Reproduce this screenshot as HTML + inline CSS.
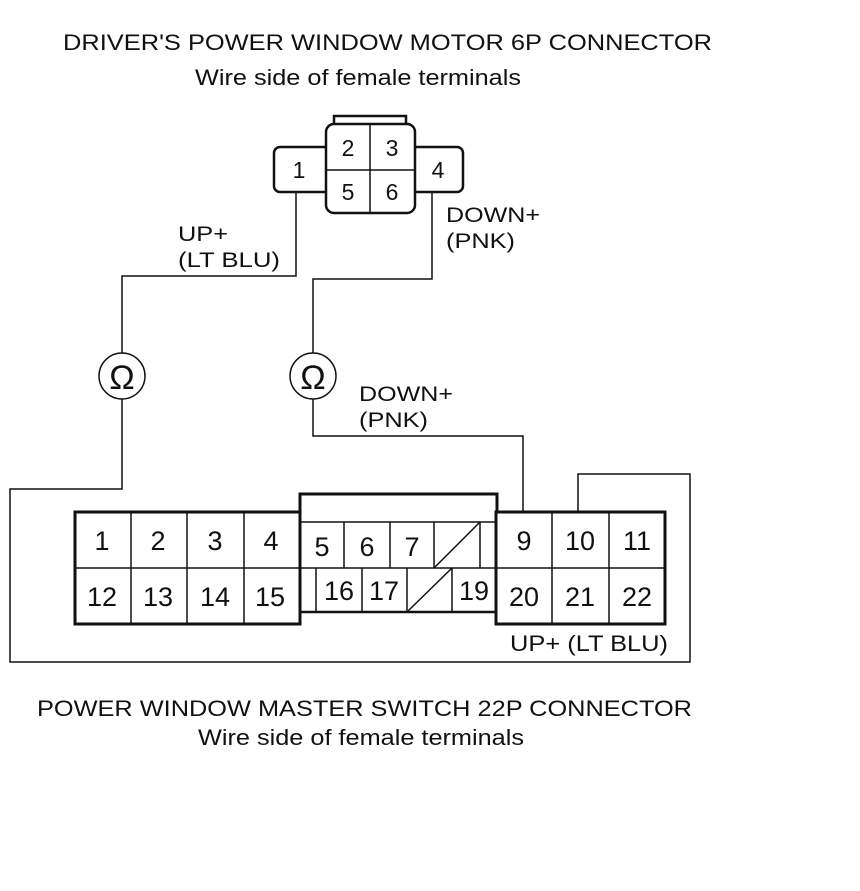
<!DOCTYPE html>
<html><head><meta charset="utf-8"><style>
body{margin:0;background:#fff}
svg{display:block}
text{font-family:"Liberation Sans",sans-serif;fill:#111}
</style></head><body>
<svg width="860" height="891" viewBox="0 0 860 891" xmlns="http://www.w3.org/2000/svg">
<rect width="860" height="891" fill="#fff"/>
<text x="63" y="50" font-size="22" textLength="649" lengthAdjust="spacingAndGlyphs">DRIVER'S POWER WINDOW MOTOR 6P CONNECTOR</text>
<text x="195" y="85" font-size="22" textLength="326" lengthAdjust="spacingAndGlyphs">Wire side of female terminals</text>
<text x="37" y="716" font-size="22" textLength="655" lengthAdjust="spacingAndGlyphs">POWER WINDOW MASTER SWITCH 22P CONNECTOR</text>
<text x="198" y="745" font-size="22" textLength="326" lengthAdjust="spacingAndGlyphs">Wire side of female terminals</text>

<g fill="none" stroke="#111" stroke-width="1.5">
<polyline points="296,190 296,276 122,276 122,353"/>
<polyline points="122,399 122,489 10,489 10,662 690,662 690,474 578,474 578,512"/>
<polyline points="432,190 432,279 313,279 313,353"/>
<polyline points="313,399 313,436 523,436 523,512"/>
<circle cx="122" cy="376" r="23"/>
<circle cx="313" cy="376" r="23"/>
</g>
<text x="122" y="389" font-size="34" text-anchor="middle">Ω</text>
<text x="313" y="389" font-size="34" text-anchor="middle">Ω</text>
<text x="178" y="241" font-size="21" textLength="50" lengthAdjust="spacingAndGlyphs">UP+</text>
<text x="178" y="267" font-size="21" textLength="102" lengthAdjust="spacingAndGlyphs">(LT BLU)</text>
<text x="446" y="222" font-size="21" textLength="94" lengthAdjust="spacingAndGlyphs">DOWN+</text>
<text x="446" y="248" font-size="21" textLength="69" lengthAdjust="spacingAndGlyphs">(PNK)</text>
<text x="359" y="401" font-size="21" textLength="94" lengthAdjust="spacingAndGlyphs">DOWN+</text>
<text x="359" y="427" font-size="21" textLength="69" lengthAdjust="spacingAndGlyphs">(PNK)</text>
<text x="510" y="651" font-size="22" textLength="158" lengthAdjust="spacingAndGlyphs">UP+ (LT BLU)</text>

<g fill="#fff" stroke="#111" stroke-width="2.5">
<rect x="334" y="116" width="72" height="12"/>
<rect x="274" y="147" width="56" height="45" rx="6"/>
<rect x="411" y="147" width="52" height="45" rx="6"/>
<rect x="326" y="124" width="89" height="89" rx="8"/>
</g>
<g stroke="#111" stroke-width="1.5">
<line x1="370" y1="124" x2="370" y2="213"/>
<line x1="326" y1="170" x2="415" y2="170"/>
</g>
<g font-size="23" text-anchor="middle">
<text x="299" y="178">1</text><text x="348" y="156">2</text><text x="392" y="156">3</text>
<text x="438" y="178">4</text><text x="348" y="200">5</text><text x="392" y="200">6</text>
</g>

<g fill="none" stroke="#111">
<rect x="75" y="512" width="225" height="112" stroke-width="3"/>
<rect x="496" y="512" width="169" height="112" stroke-width="3"/>
<polyline points="300,512 300,494 497,494 497,512" stroke-width="3"/>
<polyline points="300,612 300,624" stroke-width="3"/>
<polyline points="300,612 497,612" stroke-width="2.5"/>
<g stroke-width="1.5">
<line x1="300" y1="522" x2="497" y2="522"/>
<line x1="75" y1="568" x2="665" y2="568"/>
<line x1="131" y1="512" x2="131" y2="624"/>
<line x1="187" y1="512" x2="187" y2="624"/>
<line x1="244" y1="512" x2="244" y2="624"/>
<line x1="344" y1="522" x2="344" y2="568"/>
<line x1="390" y1="522" x2="390" y2="568"/>
<line x1="434" y1="522" x2="434" y2="568"/>
<line x1="480" y1="522" x2="480" y2="568"/>
<line x1="316" y1="568" x2="316" y2="612"/>
<line x1="362" y1="568" x2="362" y2="612"/>
<line x1="407" y1="568" x2="407" y2="612"/>
<line x1="452" y1="568" x2="452" y2="612"/>
<line x1="434" y1="568" x2="480" y2="522"/>
<line x1="407" y1="612" x2="452" y2="568"/>
<line x1="552" y1="512" x2="552" y2="624"/>
<line x1="609" y1="512" x2="609" y2="624"/>
</g>
</g>
<g font-size="27" text-anchor="middle">
<text x="102" y="550">1</text><text x="158" y="550">2</text><text x="215" y="550">3</text><text x="271" y="550">4</text>
<text x="322" y="556">5</text><text x="367" y="556">6</text><text x="412" y="556">7</text>
<text x="524" y="550">9</text><text x="580" y="550">10</text><text x="637" y="550">11</text>
<text x="102" y="606">12</text><text x="158" y="606">13</text><text x="215" y="606">14</text><text x="270" y="606">15</text>
<text x="339" y="600">16</text><text x="384" y="600">17</text><text x="474" y="600">19</text>
<text x="524" y="606">20</text><text x="580" y="606">21</text><text x="637" y="606">22</text>
</g>
</svg>
</body></html>
